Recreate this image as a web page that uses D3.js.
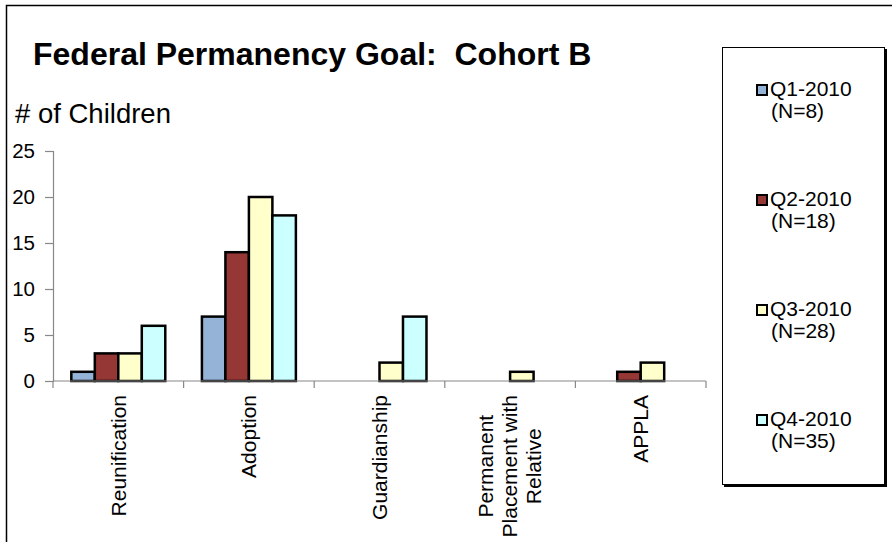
<!DOCTYPE html>
<html><head><meta charset="utf-8">
<script src="https://cdn.jsdelivr.net/npm/d3@7/dist/d3.min.js"></script>
<style>
html,body{margin:0;padding:0;background:#fff;}
svg{display:block;font-family:"Liberation Sans",Arial,sans-serif;}
</style></head>
<body><svg id="c" width="892" height="542"></svg>
<script>
const categories = ["Reunification", "Adoption", "Guardianship", "Permanent Placement with Relative", "APPLA"];
const categoryLines = [["Reunification"], ["Adoption"], ["Guardianship"], ["Permanent", "Placement with", "Relative"], ["APPLA"]];
const series = ["Q1-2010", "Q2-2010", "Q3-2010", "Q4-2010"];
const seriesN = ["(N=8)", "(N=18)", "(N=28)", "(N=35)"];
const q1 = [1, 7, 0, 0, 0];
const q2 = [3, 14, 0, 0, 1];
const q3 = [3, 20, 2, 1, 2];
const q4 = [6, 18, 7, 0, 0];
const yTicks = [0, 5, 10, 15, 20, 25];
const colors = ["#95B3D7", "#953735", "#FFFFCC", "#CCFFFF"];

const values = [q1, q2, q3, q4];
const svg = d3.select("#c");

// outer border (cropped at right/bottom)
svg.append("path").attr("d", "M6.5,542 V5.5 H892").attr("fill", "none").attr("stroke", "#000").attr("stroke-width", 1.5);

const x = d3.scaleBand().domain(categories).range([53, 706]).paddingInner(0).paddingOuter(0);
const x1 = d3.scaleBand().domain(series).range([0, x.bandwidth()]).paddingInner(0).paddingOuter(0.78);
const y = d3.scaleLinear().domain([0, 25]).range([381, 151]);

// title
svg.append("text").attr("x", 33).attr("y", 65).attr("font-size", 32).attr("font-weight", "bold").attr("fill", "#000")
  .attr("xml:space", "preserve").style("white-space", "pre").text("Federal Permanency Goal:  Cohort B");
svg.append("text").attr("x", 15).attr("y", 123).attr("font-size", 27.5).attr("fill", "#000").text("# of Children");

// y axis
const yAxis = svg.append("g").attr("transform", "translate(53,0)")
  .call(d3.axisLeft(y).tickValues(yTicks).tickSize(8).tickPadding(10).tickFormat(d3.format("d")));
yAxis.select(".domain").attr("stroke", "#888").attr("stroke-width", 1.2);
yAxis.selectAll(".tick line").attr("stroke", "#888").attr("stroke-width", 1.2);
yAxis.selectAll(".tick text").attr("font-size", 20.5).attr("fill", "#000").attr("font-family", "Liberation Sans, Arial, sans-serif");

// bars
const data = [];
series.forEach((s, si) => categories.forEach((c, ci) => {
  if (values[si][ci] > 0) data.push({s, si, c, v: values[si][ci]});
}));
svg.append("g").selectAll("rect").data(data).join("rect")
  .attr("x", d => x(d.c) + x1(d.s))
  .attr("y", d => y(d.v))
  .attr("width", x1.bandwidth())
  .attr("height", d => y(0) - y(d.v))
  .attr("fill", d => colors[d.si])
  .attr("stroke", "#000").attr("stroke-width", 2.5);

// x axis
const xAxis = svg.append("g").attr("transform", "translate(0,381)");
xAxis.append("line").attr("x1", 53).attr("x2", 706).attr("y1", 0).attr("y2", 0).attr("stroke", "#888").attr("stroke-width", 1.2);
const bounds = categories.map(c => x(c)).concat([x.range()[1]]);
xAxis.selectAll("line.tk").data(bounds).join("line").attr("class", "tk")
  .attr("x1", d => d).attr("x2", d => d).attr("y1", 0).attr("y2", 7).attr("stroke", "#888").attr("stroke-width", 1.2);

// category labels (rotated)
const labelTop = 395, lineGap = 24, catFont = 21;
categories.forEach((c, ci) => {
  const lines = categoryLines[ci];
  const cx = x(c) + x.bandwidth() / 2;
  const g = svg.append("g");
  const texts = lines.map((t, li) => {
    const lx = cx + (li - (lines.length - 1) / 2) * lineGap;
    return g.append("text").attr("font-size", catFont).attr("fill", "#000").attr("dy", "0.35em").text(t)
      .attr("data-x", lx);
  });
  const maxLen = d3.max(texts, t => t.node().getComputedTextLength());
  texts.forEach(t => {
    const lx = +t.attr("data-x");
    const cy = labelTop + maxLen / 2;
    t.attr("text-anchor", "middle").attr("transform", `translate(${lx},${cy}) rotate(-90)`);
  });
});

// legend
svg.append("rect").attr("x", 724).attr("y", 49).attr("width", 163).attr("height", 438).attr("fill", "#000");
svg.append("rect").attr("x", 722.5).attr("y", 47.5).attr("width", 162).attr("height", 437).attr("fill", "#fff").attr("stroke", "#000").attr("stroke-width", 1);
const lg = svg.append("g").selectAll("g").data(series).join("g")
  .attr("transform", (d, i) => `translate(0,${i * 110})`);
lg.append("rect").attr("x", 757).attr("y", 85).attr("width", 10).attr("height", 10)
  .attr("fill", (d, i) => colors[i]).attr("stroke", "#000").attr("stroke-width", 2);
lg.append("text").attr("x", 770).attr("y", 96).attr("font-size", 21).attr("fill", "#000").text(d => d);
lg.append("text").attr("x", 771).attr("y", 118).attr("font-size", 21).attr("fill", "#000").text((d, i) => seriesN[i]);
</script></body></html>
